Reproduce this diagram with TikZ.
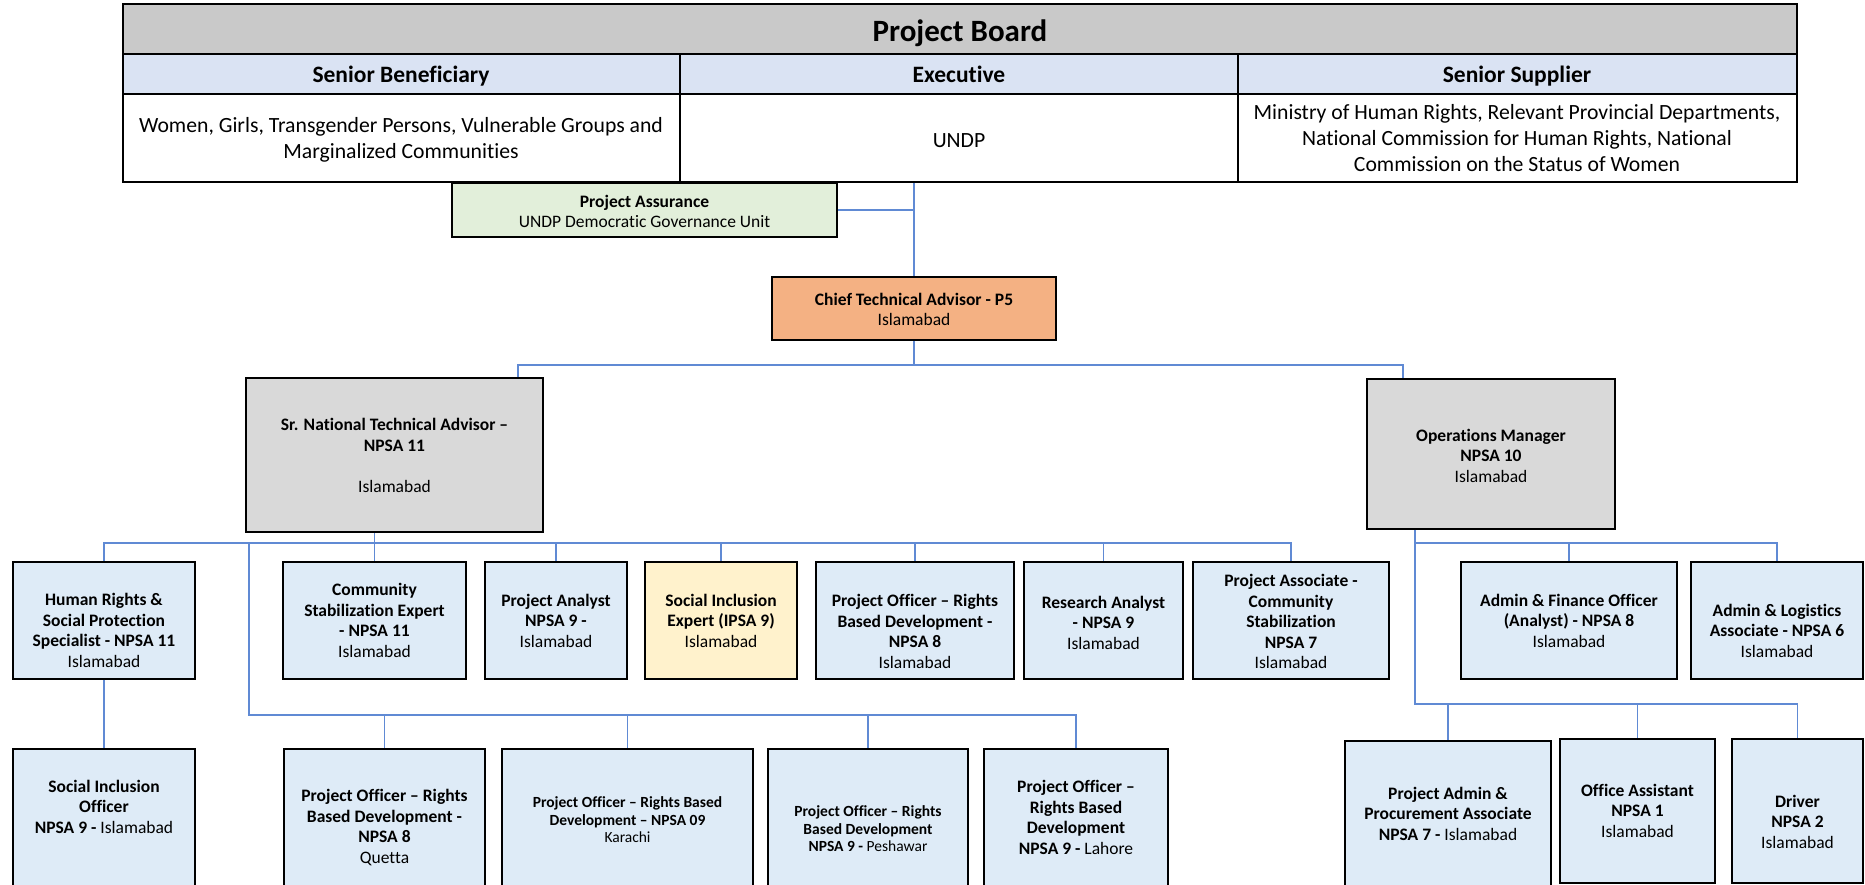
\documentclass[tikz,border=0pt]{standalone}
\usepackage{fontspec}
\setmainfont{Carlito}[Ligatures=NoCommon]
\usetikzlibrary{calc}

\definecolor{boardgray}{RGB}{201,201,201}
\definecolor{headblue}{RGB}{218,227,243}
\definecolor{assurgreen}{RGB}{226,239,218}
\definecolor{ctaorange}{RGB}{244,177,131}
\definecolor{leadgray}{RGB}{217,217,217}
\definecolor{staffblue}{RGB}{222,235,247}
\definecolor{expertyellow}{RGB}{255,242,204}
\definecolor{linkblue}{RGB}{96,138,212}

\newcommand\boardfont{\fontsize{31}{36}\selectfont\bfseries}
\newcommand\headfont{\fontsize{23.5}{27}\selectfont\bfseries}
\newcommand\tablefont{\fontsize{21.7}{26}\selectfont}
\newcommand\boxfont{\fontsize{17.5}{20.5}\selectfont}
\newcommand\smallboxfont{\fontsize{15.5}{17.5}\selectfont}

% rectangle node spanning (x1,y1)-(x2,y2)
\newcommand\orgcell[6]{%
  \pgfmathsetmacro\cellw{#5-#3}%
  \pgfmathsetmacro\cellh{#6-#4}%
  \node[#2, minimum width=\cellw pt, minimum height=\cellh pt]
    (#1) at ({(#3+#5)/2},{(#4+#6)/2}) {};}

\tikzset{
  cellbox/.style={draw=black, line width=1.8pt, inner sep=0pt, rectangle},
  txt/.style={align=center, inner sep=0pt, font=\boxfont, yshift=-2.5pt,
    execute at begin node=\strut, execute at end node=\strut},
  smalltxt/.style={txt, font=\smallboxfont},
  tabtxt/.style={txt, font=\tablefont},
  conn/.style={draw=linkblue, line width=1.4pt},
}

\begin{document}
\begin{tikzpicture}[x=1pt,y=-1pt]
\useasboundingbox (0,0) rectangle (1865,885);
\fill[white] (0,0) rectangle (1865,885);
\clip (0,0) rectangle (1865,885);

% ---- Project Board table ----
\orgcell{pb}{cellbox, fill=boardgray}{123}{4}{1797}{54}
\orgcell{sb}{cellbox, fill=headblue}{123}{54}{680}{94}
\orgcell{ex}{cellbox, fill=headblue}{680}{54}{1238}{94}
\orgcell{ss}{cellbox, fill=headblue}{1238}{54}{1797}{94}
\orgcell{sbc}{cellbox, fill=white}{123}{94}{680}{182}
\orgcell{exc}{cellbox, fill=white}{680}{94}{1238}{182}
\orgcell{ssc}{cellbox, fill=white}{1238}{94}{1797}{182}

\node[txt, font=\boardfont] (pb-t) at (960,31.5) {Project Board};
\node[txt, font=\headfont] (sb-t) at (401,75) {Senior Beneficiary};
\node[txt, font=\headfont] (ex-t) at (959,75) {Executive};
\node[txt, font=\headfont] (ss-t) at (1517,75) {Senior Supplier};
\node[tabtxt] (sbc-t) at (401,139.5) {Women, Girls, Transgender Persons, Vulnerable Groups and\\Marginalized Communities};
\node[tabtxt] (exc-t) at (959,139.5) {UNDP};
\node[tabtxt] (ssc-t) at (1517,139.5) {Ministry of Human Rights, Relevant Provincial Departments,\\National Commission for Human Rights, National\\Commission on the Status of Women};

% ---- Assurance and management ----
\orgcell{pa}{cellbox, fill=assurgreen}{452}{183}{837}{237}
\node[txt] (pa-t) at (644.5,212) {\textbf{Project Assurance}\\UNDP Democratic Governance Unit};

\orgcell{cta}{cellbox, fill=ctaorange}{772}{277}{1056}{340}
\node[txt] (cta-t) at (914,310) {\textbf{Chief Technical Advisor - P5}\\Islamabad};

\orgcell{sn}{cellbox, fill=leadgray}{246}{378}{543}{532}
\node[txt] (sn-t) at (394.5,456) {\textbf{Sr. National Technical Advisor --}\\\textbf{NPSA 11}\\~\\Islamabad};

\orgcell{om}{cellbox, fill=leadgray}{1367}{379}{1615}{529}
\node[txt] (om-t) at (1491,456) {\textbf{Operations Manager}\\\textbf{NPSA 10}\\Islamabad};

% ---- Second tier ----
\orgcell{hr}{cellbox, fill=staffblue}{13}{562}{195}{679}
\node[txt] (hr-t) at (104,631) {\textbf{Human Rights \&}\\\textbf{Social Protection}\\\textbf{Specialist - NPSA 11}\\Islamabad};

\orgcell{cse}{cellbox, fill=staffblue}{283}{562}{466}{679}
\node[txt] (cse-t) at (374.5,621) {\textbf{Community}\\\textbf{Stabilization Expert}\\\textbf{- NPSA 11}\\Islamabad};

\orgcell{pan}{cellbox, fill=staffblue}{485}{562}{627}{679}
\node[txt] (pan-t) at (556,621) {\textbf{Project Analyst}\\\textbf{NPSA 9 -}\\Islamabad};

\orgcell{sie}{cellbox, fill=expertyellow}{645}{562}{797}{679}
\node[txt] (sie-t) at (721,621) {\textbf{Social Inclusion}\\\textbf{Expert (IPSA 9)}\\Islamabad};

\orgcell{poi}{cellbox, fill=staffblue}{816}{562}{1014}{679}
\node[txt] (poi-t) at (915,632) {\textbf{Project Officer -- Rights}\\\textbf{Based Development -}\\\textbf{NPSA 8}\\Islamabad};

\orgcell{ra}{cellbox, fill=staffblue}{1024}{562}{1183}{679}
\node[txt] (ra-t) at (1103.5,623) {\textbf{Research Analyst}\\\textbf{- NPSA 9}\\Islamabad};

\orgcell{pas}{cellbox, fill=staffblue}{1193}{562}{1389}{679}
\node[txt] (pas-t) at (1291,622) {\textbf{Project Associate -}\\\textbf{Community}\\\textbf{Stabilization}\\\textbf{NPSA 7}\\Islamabad};

\orgcell{afo}{cellbox, fill=staffblue}{1461}{562}{1677}{679}
\node[txt] (afo-t) at (1569,621) {\textbf{Admin \& Finance Officer}\\\textbf{(Analyst) - NPSA 8}\\Islamabad};

\orgcell{ala}{cellbox, fill=staffblue}{1691}{562}{1863}{679}
\node[txt] (ala-t) at (1777,631) {\textbf{Admin \& Logistics}\\\textbf{Associate - NPSA 6}\\Islamabad};

% ---- Third tier ----
\orgcell{sio}{cellbox, fill=staffblue}{13}{749}{195}{905}
\node[txt] (sio-t) at (104,807) {\textbf{Social Inclusion}\\\textbf{Officer}\\\textbf{NPSA 9 -} Islamabad};

\orgcell{poq}{cellbox, fill=staffblue}{284}{749}{485}{905}
\node[txt] (poq-t) at (384.5,827) {\textbf{Project Officer -- Rights}\\\textbf{Based Development -}\\\textbf{NPSA 8}\\Quetta};

\orgcell{pok}{cellbox, fill=staffblue}{502}{749}{753}{905}
\node[smalltxt] (pok-t) at (627.5,820) {\textbf{Project Officer -- Rights Based}\\\textbf{Development -- NPSA 09}\\Karachi};

\orgcell{pop}{cellbox, fill=staffblue}{768}{749}{968}{905}
\node[smalltxt] (pop-t) at (868,829) {\textbf{Project Officer -- Rights}\\\textbf{Based Development}\\\textbf{NPSA 9 -} Peshawar};

\orgcell{pol}{cellbox, fill=staffblue}{984}{749}{1168}{905}
\node[txt] (pol-t) at (1076,818) {\textbf{Project Officer --}\\\textbf{Rights Based}\\\textbf{Development}\\\textbf{NPSA 9 -} Lahore};

\orgcell{papa}{cellbox, fill=staffblue}{1345}{741}{1551}{905}
\node[txt] (papa-t) at (1448,814) {\textbf{Project Admin \&}\\\textbf{Procurement Associate}\\\textbf{NPSA 7 -} Islamabad};

\orgcell{oa}{cellbox, fill=staffblue}{1560}{739}{1715}{883}
\node[txt] (oa-t) at (1637.5,811) {\textbf{Office Assistant}\\\textbf{NPSA 1}\\Islamabad};

\orgcell{dr}{cellbox, fill=staffblue}{1732}{739}{1863}{883}
\node[txt] (dr-t) at (1797.5,822) {\textbf{Driver}\\\textbf{NPSA 2}\\Islamabad};

% ---- Reporting lines ----
\coordinate (b1) at (0,365);
\coordinate (b2) at (0,543);
\coordinate (b3) at (249,715);
\coordinate (b4) at (0,543);
\coordinate (b5) at (0,704);
\coordinate (snx) at (518,0);
\coordinate (omx) at (1403,0);
\coordinate (opsx) at (1415,0);

\draw[conn] (cta.north |- exc.south) -- (cta.north);
\draw[conn] (pa.east) -- (pa.east -| cta.north);

\draw[conn] (cta.south) -- (cta.south |- b1);
\draw[conn] (snx |- sn.north) -- (snx |- b1) -- (omx |- b1) -- (omx |- om.north);

\draw[conn] (cse.north |- sn.south) -- (cse.north);
\draw[conn] (hr.north) -- (hr.north |- b2) -- (pas.north |- b2) -- (pas.north);
\foreach \n in {pan, sie, poi, ra}
  \draw[conn] (\n.north |- b2) -- (\n.north);

\draw[conn] (b3 |- b2) -- (b3) -- (pol.north |- b3) -- (pol.north);
\foreach \n in {poq, pok, pop}
  \draw[conn] (\n.north |- b3) -- (\n.north);

\draw[conn] (hr.south) -- (sio.north);

\draw[conn] (opsx |- om.south) -- (opsx |- b5) -- (dr.north |- b5) -- (dr.north);
\draw[conn] (opsx |- b4) -- (ala.north |- b4) -- (ala.north);
\draw[conn] (afo.north |- b4) -- (afo.north);
\foreach \n in {papa, oa}
  \draw[conn] (\n.north |- b5) -- (\n.north);
\end{tikzpicture}
\end{document}
